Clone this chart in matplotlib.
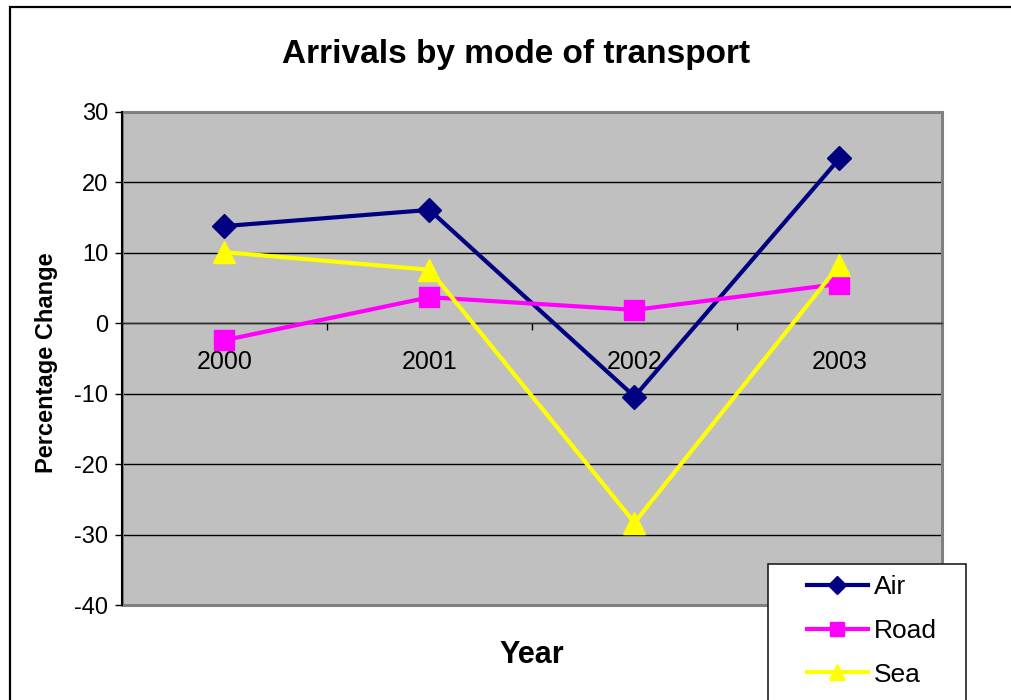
import numpy as np
import matplotlib
matplotlib.use("Agg")
import matplotlib.pyplot as plt
from matplotlib.patches import Rectangle

plt.rcParams["font.family"] = ["Liberation Sans", "DejaVu Sans"]
plt.rcParams["axes.unicode_minus"] = False

# ------------------------------------------------------------------------------
# data
years = ["2000", "2001", "2002", "2003"]
air = [13.8, 16.1, -10.4, 23.4]
road = [-2.4, 3.7, 1.9, 5.6]
sea = [10.1, 7.6, -28.3, 8.3]
yticks = [-40, -30, -20, -10, 0, 10, 20, 30]

W, H = 1012, 700

fig = plt.figure(figsize=(W / 100, H / 100), dpi=100)
fig.patch.set_facecolor("white")

# outer chart border (left and top visible, rest off the canvas)
fig.patches.append(
    Rectangle((10 / W, -0.2), 1.1, 1.2 - 7 / H, transform=fig.transFigure,
              fill=False, edgecolor="black", linewidth=1.6, zorder=0)
)

# plot area
ax = fig.add_axes([122 / W, 1 - 605 / H, 820 / W, 493 / H])
ax.set_facecolor("#c0c0c0")
x = np.arange(len(years))

ax.plot(x, air, color="#000080", lw=3, marker="D", ms=12, label="Air", zorder=3)
ax.plot(x, road, color="#ff00ff", lw=3, marker="s", ms=14, label="Road", zorder=3)
ax.plot(x, sea, color="#ffff00", lw=3, marker="^", ms=16, label="Sea", zorder=3)

ax.set_xlim(-0.5, len(years) - 0.5)
ax.set_ylim(-40, 30)
ax.set_yticks(yticks)
ax.yaxis.grid(True, color="black", lw=1)
ax.set_axisbelow(True)

# category axis crosses at zero
ax.spines["bottom"].set_position(("data", 0))
ax.spines["bottom"].set_color("#303030")
ax.spines["bottom"].set_linewidth(1)
ax.spines["top"].set_visible(False)
ax.spines["right"].set_visible(False)
ax.spines["left"].set_color("black")
ax.spines["left"].set_linewidth(1.5)
ax.spines["left"].set_zorder(4)
ax.add_patch(Rectangle((0, 0), 1, 1, transform=ax.transAxes, fill=False,
                       edgecolor="#808080", linewidth=2.2, clip_on=False, zorder=2.5))

ax.set_xticks(x)
ax.set_xticklabels(years)
ax.set_xticks(x[:-1] + 0.5, minor=True)
ax.tick_params(axis="x", which="major", length=0, pad=19, labelsize=18)
ax.tick_params(axis="x", which="minor", length=5, width=1, direction="out")
ax.tick_params(axis="y", length=5, width=1, direction="out", pad=5, labelsize=17)

# titles
fig.text(516 / W, 1 - 63 / H, "Arrivals by mode of transport", ha="center",
         va="baseline", fontsize=24, fontweight="bold")
fig.text(47 / W, 1 - 363 / H, "Percentage Change", ha="center", va="center",
         rotation=90, fontsize=17, fontweight="bold")
fig.text(532 / W, 1 - 663 / H, "Year", ha="center", va="baseline",
         fontsize=22, fontweight="bold")

# legend box, runs off the bottom of the canvas
fig.patches.append(
    Rectangle((768 / W, -0.1), 198 / W, 0.1 + 1 - 564 / H, transform=fig.transFigure,
              facecolor="white", edgecolor="#202020", linewidth=1.2, zorder=5)
)
leg = fig.legend(loc="upper left", bbox_to_anchor=(807 / W, 1 - 575 / H),
                 frameon=False, fontsize=19, handlelength=2.3, handletextpad=0.25,
                 labelspacing=0.75, borderpad=0, borderaxespad=0, markerscale=0.75)
leg.set_zorder(6)

fig.savefig("out.png", dpi=100)
